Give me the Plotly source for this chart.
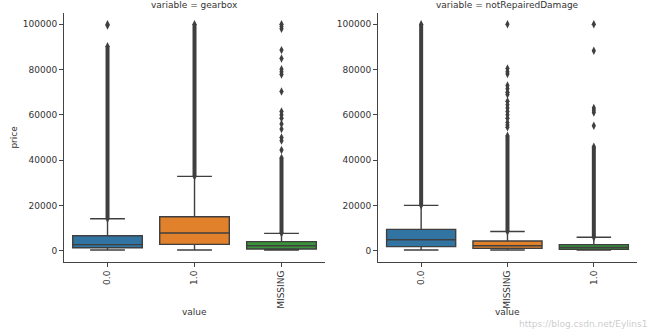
import plotly.graph_objects as go

# ---------------- data ----------------
gear_cats = ["0.0", "1.0", "MISSING"]
gear_q1 = [1300, 2800, 750]
gear_med = [2650, 7800, 2200]
gear_q3 = [6600, 15000, 4000]
gear_lo = [300, 300, 300]
gear_hi = [14100, 32800, 7650]
gear_dense = [(14100, 90300), (32800, 100000), (7650, 41000)]
gear_sparse = [
    [99500, 100000],
    [],
    [44500, 48600, 50000, 53700, 56000, 58500, 60000, 61500, 70300,
     77800, 79000, 80200, 84900, 88600, 98000, 99000, 100000],
]

dmg_cats = ["0.0", "MISSING", "1.0"]
dmg_q1 = [1800, 1000, 600]
dmg_med = [4850, 2200, 1450]
dmg_q3 = [9400, 4300, 2650]
dmg_lo = [300, 300, 300]
dmg_hi = [20000, 8500, 5900]
dmg_dense = [(20000, 100000), (8500, 50800), (5900, 45900)]
dmg_sparse = [
    [],
    [54500, 55500, 56600, 58500, 60000, 61500, 63000, 64500, 66000, 69000,
     70000, 71500, 73000, 78000, 79000, 80500, 100000],
    [55200, 61000, 62000, 63000, 88300, 100000],
]

colors = ["#3274a1", "#e1812c", "#3a923a"]
edge = "#3f3f3f"
yticks = [0, 20000, 40000, 60000, 80000, 100000]

fig = go.Figure()


def add_panel(cats, q1, med, q3, lo, hi, dense, sparse, xa, ya):
    for i, c in enumerate(cats):
        lo_d, hi_d = dense[i]
        fig.add_trace(go.Scatter(
            x=[c, c], y=[lo_d, hi_d], mode="lines",
            line=dict(color=edge, width=4), xaxis=xa, yaxis=ya,
            showlegend=False, hoverinfo="skip"))
        fig.add_trace(go.Scatter(
            x=[c, c] + [c] * len(sparse[i]), y=[lo_d, hi_d] + sparse[i],
            mode="markers",
            marker=dict(symbol="diamond-tall", size=6, color=edge),
            xaxis=xa, yaxis=ya, showlegend=False, hoverinfo="skip"))
        fig.add_trace(go.Box(
            x=[c], q1=[q1[i]], median=[med[i]], q3=[q3[i]],
            lowerfence=[lo[i]], upperfence=[hi[i]],
            fillcolor=colors[i], line=dict(color=edge, width=1.4),
            width=0.8, whiskerwidth=0.5, boxpoints=False,
            xaxis=xa, yaxis=ya, showlegend=False))


add_panel(gear_cats, gear_q1, gear_med, gear_q3, gear_lo, gear_hi,
          gear_dense, gear_sparse, "x", "y")
add_panel(dmg_cats, dmg_q1, dmg_med, dmg_q3, dmg_lo, dmg_hi,
          dmg_dense, dmg_sparse, "x2", "y2")

font = dict(family="DejaVu Sans", size=9, color="#333333")
axis_common = dict(showline=True, linecolor="#444444", linewidth=1,
                   ticks="outside", ticklen=4, tickcolor="#444444",
                   showgrid=False, zeroline=False, tickfont=font)

ydom = [0.2061, 0.9606]
fig.update_layout(
    width=650, height=330,
    margin=dict(l=0, r=0, t=0, b=0),
    paper_bgcolor="white", plot_bgcolor="white",
    font=font,
    xaxis=dict(domain=[0.0985, 0.5], type="category",
               categoryorder="array", categoryarray=gear_cats,
               range=[-0.5, 2.5], tickangle=-90, anchor="y", **axis_common),
    xaxis2=dict(domain=[0.5815, 0.98], type="category",
                categoryorder="array", categoryarray=dmg_cats,
                range=[-0.5, 2.5], tickangle=-90, anchor="y2", **axis_common),
    yaxis=dict(domain=ydom, range=[-5000, 105000], tickvals=yticks,
               ticktext=[str(v) for v in yticks], anchor="x", **axis_common),
    yaxis2=dict(domain=ydom, range=[-5000, 105000], tickvals=yticks,
                ticktext=[str(v) for v in yticks], anchor="x2", **axis_common),
)

ann = [
    dict(text="variable = gearbox", x=0.299, y=0.985),
    dict(text="variable = notRepairedDamage", x=0.781, y=0.985),
    dict(text="value", x=0.299, y=0.054),
    dict(text="value", x=0.781, y=0.054),
    dict(text="price", x=14 / 650, y=0.583, textangle=-90),
]
for a in ann:
    fig.add_annotation(xref="paper", yref="paper", showarrow=False,
                       xanchor="center", yanchor="middle", font=font,
                       borderpad=0, **a)

fig.add_annotation(text="https://blog.csdn.net/Eylins1", xref="paper", yref="paper",
                   x=0.997, y=0.0, xanchor="right", yanchor="bottom", showarrow=False,
                   borderpad=0,
                   font=dict(family="DejaVu Sans", size=9, color="rgba(190,190,190,0.8)"))

fig.write_html("out.html")
